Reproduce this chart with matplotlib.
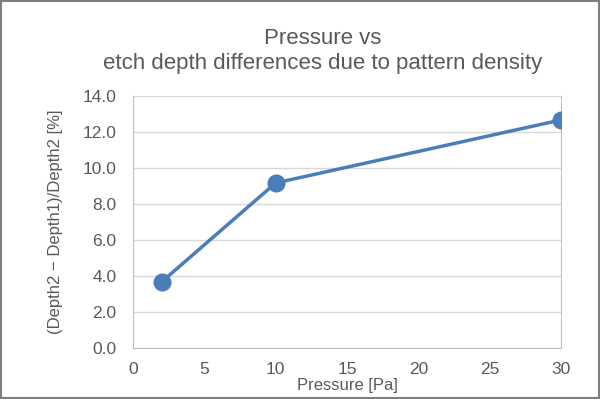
import matplotlib.pyplot as plt
from matplotlib.patches import Rectangle

pressure = [2, 10, 30]
depth_diff = [3.67, 9.17, 12.67]
x_ticks = [0, 5, 10, 15, 20, 25, 30]
y_ticks = [0, 2, 4, 6, 8, 10, 12, 14]

plt.rcParams['font.family'] = ['Liberation Sans', 'DejaVu Sans']
text_col = '#595959'
line_col = '#4a7ebb'

fig = plt.figure(figsize=(6, 3.99), dpi=100)
ax = fig.add_axes([0.2217, 0.1278, 0.7133, 0.6316])

ax.plot(pressure, depth_diff, color=line_col, lw=2.5, marker='o', ms=12, zorder=3)

ax.set_xlim(0, 30)
ax.set_ylim(0, 14)
ax.set_xticks(x_ticks)
ax.set_yticks(y_ticks)
ax.set_yticklabels(['%.1f' % v for v in y_ticks])
ax.grid(axis='y', color='#d9d9d9', lw=1)
ax.set_axisbelow(True)
for s in ax.spines.values():
    s.set_color('#bfbfbf')
ax.spines['top'].set_visible(False)
ax.tick_params(length=0, labelsize=12.5, colors=text_col)
ax.tick_params(axis='y', pad=12)
ax.tick_params(axis='x', pad=10)

ax.set_xlabel('Pressure [Pa]', fontsize=12, color=text_col, labelpad=1)
ax.set_ylabel('(Depth2 \u2212 Depth1)/Depth2 [%]', fontsize=12, color=text_col, labelpad=14)

fig.text(0.538, 0.872, 'Pressure vs\netch depth differences due to pattern density',
         ha='center', va='center', fontsize=16, color=text_col, linespacing=1.25)

fig.patches.append(Rectangle((0.002, 0.002), 0.996, 0.996, transform=fig.transFigure,
                             fill=False, edgecolor='#7f7f7f', lw=1.5))

fig.savefig('out.png', dpi=100)
